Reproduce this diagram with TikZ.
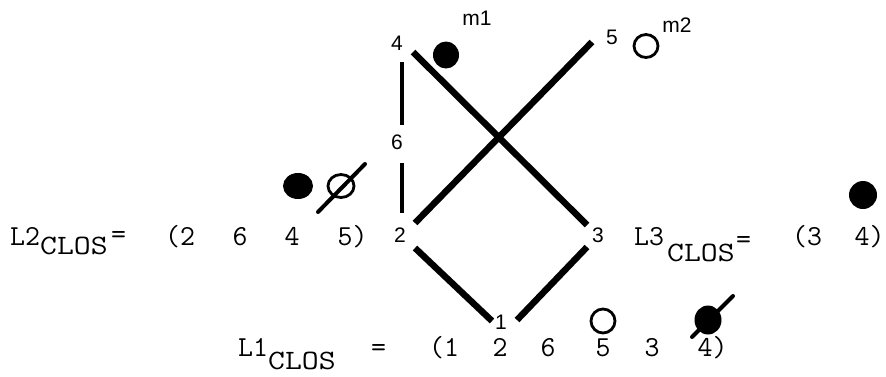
\documentclass[tikz,border=0pt]{standalone}
\usepackage{fontspec}
\setsansfont{Liberation Sans}
\usepackage{graphicx}
\usetikzlibrary{shapes.geometric}
\newcommand{\closs}{\scalebox{1.17}[1]{CLOS}}
\begin{document}
\begin{tikzpicture}[x=1pt,y=-1pt,
  lbl/.style={font=\sffamily\fontsize{21}{24}\selectfont, inner sep=0pt},
  ttw/.style={font=\ttfamily\fontsize{29}{34}\selectfont, inner sep=0pt, anchor=base west},
  ttc/.style={font=\ttfamily\fontsize{29}{34}\selectfont, inner sep=0pt, anchor=base},
  subw/.style={font=\ttfamily\fontsize{28}{32}\selectfont, inner sep=0pt, anchor=base west},
  edgeline/.style={line width=6.5pt},
  vline/.style={line width=4pt},
  slash/.style={line width=4pt, line cap=round},
  dotfilled/.style={ellipse, fill=black, inner sep=0pt},
  dotopen/.style={ellipse, draw=black, line width=2.8pt, inner sep=0pt},
]
\fill[white] (0,0) rectangle (886,376);
\useasboundingbox (0,0) rectangle (886,376);

% graph labels
\node[lbl] (n4) at (397,43) {4};
\node[lbl] (n5) at (612,37) {5};
\node[lbl] (n6) at (397,142) {6};
\node[lbl] (n2) at (400,235) {2};
\node[lbl] (n3) at (598,235) {3};
\node[lbl] (n1) at (501,322) {1};
\node[lbl] (m1) at (477,18) {m1};
\node[lbl] (m2) at (677,25) {m2};

% marks
\node[dotfilled, minimum width=26pt, minimum height=27pt] (c1) at (446,55) {};
\node[dotopen, minimum width=24pt, minimum height=23pt] (c2) at (646,46) {};

% edge end points
\coordinate (a4) at (413,52);  \coordinate (b3) at (587,225);
\coordinate (a2) at (415,223); \coordinate (b5) at (592,42);
\coordinate (c2a) at (415,248); \coordinate (d1) at (492,321);
\coordinate (e1) at (517,320); \coordinate (f3) at (587,247);
\coordinate (v4) at (402,62);  \coordinate (v6a) at (402,125);
\coordinate (v6b) at (402,163); \coordinate (v2) at (402,213);

\draw[edgeline] (a4) -- (b3);
\draw[edgeline] (a2) -- (b5);
\draw[edgeline] (c2a) -- (d1);
\draw[edgeline] (e1) -- (f3);
\draw[vline] (v4) -- (v6a);
\draw[vline] (v6b) -- (v2);

% L2 row
\node[ttw] (l2) at (10,245) {L2};
\node[subw] (l2s) at (40,254) {\closs};
\node[ttc] (l2e) at (118.5,243) {=};
\node[ttw] (l2a) at (165,245) {(2};
\node[ttc] (l2b) at (240,245) {6};
\node[ttc] (l2c) at (292,245) {4};
\node[ttw] (l2d) at (337.4,245) {5)};
\node[dotfilled, minimum width=30pt, minimum height=26pt] (d21) at (298,186) {};
\node[dotopen, minimum width=26pt, minimum height=23pt] (d22) at (341,186) {};
\coordinate (s2a) at (318,212); \coordinate (s2b) at (365,164);
\draw[slash] (s2a) -- (s2b);

% L3 row
\node[ttw] (l3) at (634,245) {L3};
\node[subw] (l3s) at (667,261) {\closs};
\node[ttc] (l3e) at (743.5,248) {=};
\node[ttw] (l3a) at (792,245) {(3};
\node[ttw] (l3b) at (854.4,245) {4)};
\node[dotfilled, minimum width=28pt, minimum height=28pt] (d31) at (863,195) {};

% L1 row
\node[ttw] (l1) at (238,356) {L1};
\node[subw] (l1s) at (268,369) {\closs};
\node[ttc] (l1e) at (378.5,356) {=};
\node[ttw] (l1a) at (429,356) {(1};
\node[ttc] (l1b) at (500,356) {2};
\node[ttc] (l1c) at (548,356) {6};
\node[ttc] (l1d) at (603,356) {5};
\node[ttc] (l1f) at (652,356) {3};
\node[ttw] (l1g) at (697.4,356) {4)};
\node[dotopen, minimum width=24pt, minimum height=24pt] (d11) at (603,321) {};
\node[dotfilled, minimum width=27pt, minimum height=29pt] (d12) at (708,320) {};
\coordinate (s1a) at (692,337); \coordinate (s1b) at (733,296);
\draw[slash] (s1a) -- (s1b);
\end{tikzpicture}
\end{document}
